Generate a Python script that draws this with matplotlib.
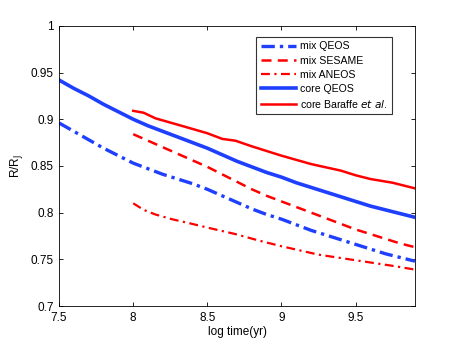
import matplotlib
matplotlib.use("Agg")
import matplotlib.pyplot as plt

plt.rcParams['font.family'] = ['Liberation Sans', 'DejaVu Sans']

# Data (log time in yr, R/RJ)
x_core_qeos = [7.5, 7.6, 7.7, 7.8, 7.9, 8.0, 8.1, 8.2, 8.3, 8.4, 8.5, 8.6, 8.7,
               8.8, 8.9, 9.0, 9.1, 9.2, 9.3, 9.4, 9.5, 9.6, 9.7, 9.8, 9.9]
y_core_qeos = [0.942, 0.933, 0.925, 0.916, 0.908, 0.900, 0.893, 0.887, 0.881, 0.875,
               0.869, 0.862, 0.855, 0.849, 0.843, 0.838, 0.832, 0.827, 0.822, 0.817,
               0.812, 0.807, 0.803, 0.799, 0.795]

x_mix_qeos = [7.5, 7.6, 7.7, 7.8, 7.9, 8.0, 8.1, 8.2, 8.3, 8.4, 8.5, 8.6, 8.7,
              8.8, 8.9, 9.0, 9.1, 9.2, 9.3, 9.4, 9.5, 9.6, 9.7, 9.8, 9.9]
y_mix_qeos = [0.896, 0.887, 0.878, 0.869, 0.861, 0.853, 0.847, 0.841, 0.836, 0.831,
              0.825, 0.818, 0.811, 0.804, 0.798, 0.793, 0.787, 0.781, 0.776, 0.771,
              0.766, 0.761, 0.756, 0.752, 0.748]

x_baraffe = [8.0, 8.07, 8.15, 8.26, 8.37, 8.5, 8.6, 8.69, 8.8, 9.0, 9.2, 9.4, 9.5, 9.6, 9.75, 9.9]
y_baraffe = [0.909, 0.907, 0.901, 0.896, 0.891, 0.885, 0.879, 0.877, 0.871, 0.861, 0.852, 0.845, 0.840, 0.836, 0.832, 0.826]

x_sesame = [8.0, 8.1, 8.2, 8.3, 8.4, 8.5, 8.6, 8.7, 8.8, 8.9, 9.0, 9.1, 9.2, 9.3,
            9.4, 9.5, 9.6, 9.7, 9.8, 9.9]
y_sesame = [0.884, 0.877, 0.870, 0.863, 0.856, 0.849, 0.841, 0.833, 0.825, 0.818,
            0.812, 0.806, 0.800, 0.794, 0.788, 0.782, 0.777, 0.772, 0.767, 0.763]

x_aneos = [8.0, 8.07, 8.15, 8.26, 8.37, 8.5, 8.69, 8.85, 9.0, 9.25, 9.5, 9.75, 9.9]
y_aneos = [0.810, 0.803, 0.798, 0.793, 0.789, 0.784, 0.777, 0.770, 0.764, 0.755, 0.749, 0.743, 0.739]

xticks = [7.5, 8, 8.5, 9, 9.5]
xtick_labels = ['7.5', '8', '8.5', '9', '9.5']
yticks = [0.7, 0.75, 0.8, 0.85, 0.9, 0.95, 1.0]
ytick_labels = ['0.7', '0.75', '0.8', '0.85', '0.9', '0.95', '1']

blue = '#1f3fff'
red = '#ff0000'

fig = plt.figure(figsize=(4.58, 3.45), dpi=100)
ax = fig.add_axes([0.129, 0.113, 0.777, 0.812])

ax.plot(x_mix_qeos, y_mix_qeos, color=blue, lw=2.4, linestyle=(0, (4, 1.5, 1, 1.5)), label='mix QEOS')
ax.plot(x_sesame, y_sesame, color=red, lw=1.8, linestyle=(0, (4, 2.5)), label='mix SESAME')
ax.plot(x_aneos, y_aneos, color=red, lw=1.6, linestyle=(0, (4, 2, 1, 2)), label='mix ANEOS')
ax.plot(x_core_qeos, y_core_qeos, color=blue, lw=2.6, label='core QEOS')
ax.plot(x_baraffe, y_baraffe, color=red, lw=1.8, label=r'core Baraffe $\mathit{et\ al}$.')

ax.set_xlim(7.5, 9.9)
ax.set_ylim(0.7, 1.0)
ax.set_xticks(xticks)
ax.set_xticklabels(xtick_labels)
ax.set_yticks(yticks)
ax.set_yticklabels(ytick_labels)
ax.tick_params(direction='in', top=True, right=True, labelsize=8.5, length=3, width=0.6, pad=4)
for s in ax.spines.values():
    s.set_linewidth(0.6)

ax.set_xlabel('log time(yr)', fontsize=8.5, labelpad=2)
ax.set_ylabel(r'R/R$_\mathrm{J}$', fontsize=8.5, labelpad=4)

leg = ax.legend(loc='upper right', bbox_to_anchor=(0.935, 0.96), fontsize=7.6,
                handlelength=3.4, handletextpad=0.35, borderpad=0.4, labelspacing=0.4,
                fancybox=False, frameon=True, borderaxespad=0)
leg.get_frame().set_edgecolor('black')
leg.get_frame().set_linewidth(0.8)

fig.savefig('out.png', dpi=100)
